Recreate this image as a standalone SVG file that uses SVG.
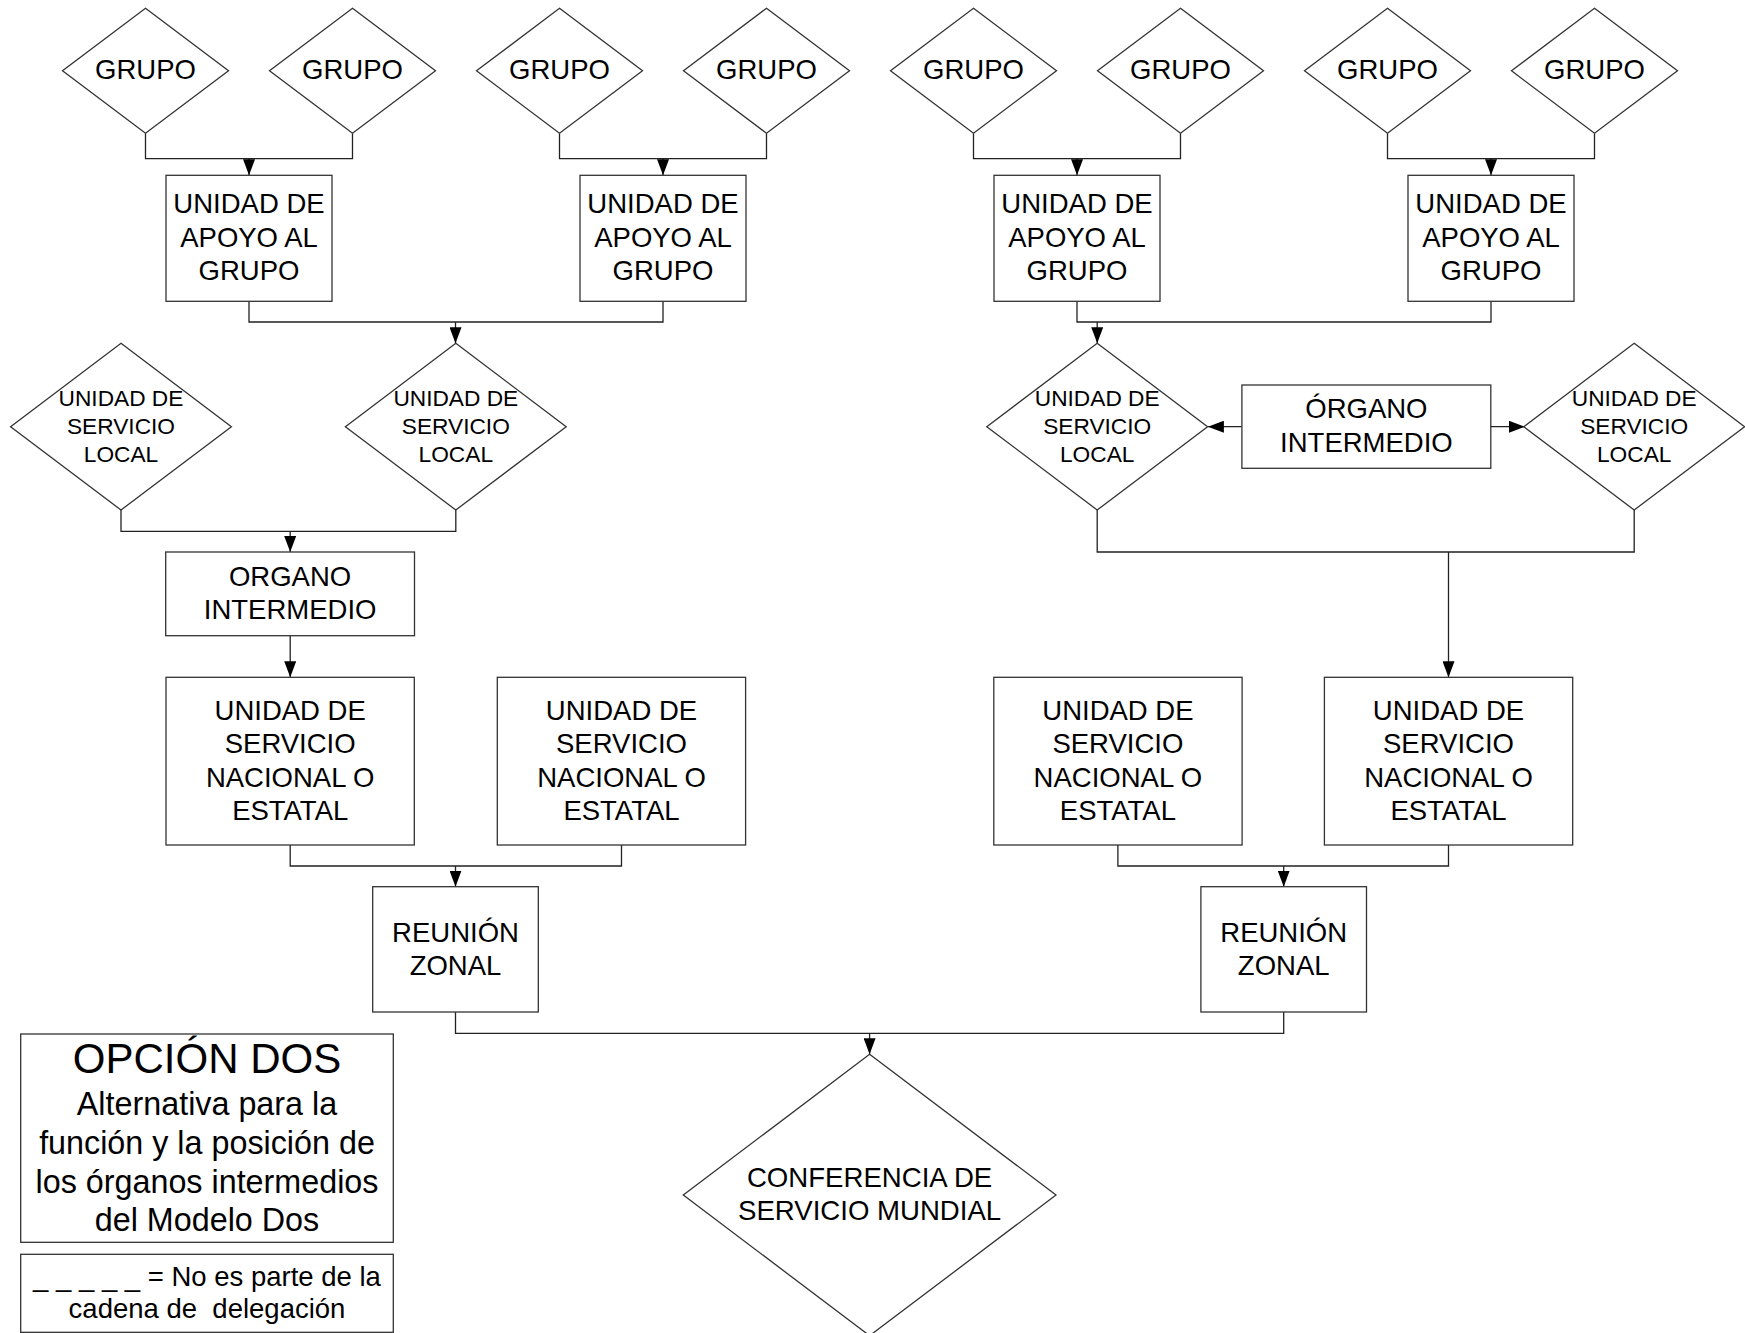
<svg xmlns="http://www.w3.org/2000/svg" width="1745" height="1333" viewBox="0 0 1745 1333">
<defs>
<marker id="arr" markerUnits="userSpaceOnUse" markerWidth="17" markerHeight="12" refX="16" refY="6" orient="auto">
<path d="M0,0 L16,6 L0,12 z" fill="#000"/>
</marker>
<style>
.n{fill:#fff;stroke:#333;stroke-width:1.3}
.c{fill:none;stroke:#222;stroke-width:1.3}
.a{fill:none;stroke:#222;stroke-width:1.3;marker-end:url(#arr)}
text{font-family:"Liberation Sans",Arial,sans-serif;fill:#000;text-anchor:middle}
.t{font-size:27.5px}
.s{font-size:22.7px}
.l{font-size:32.3px}
.g{font-size:27.5px}
</style>
</defs>
<rect width="1745" height="1333" fill="#fff"/>

<g id="connectors">
<path class="c" d="M145.5,133.3V158.7H352.5V133.3"/>
<path class="a" d="M249,158.7V175.3"/>
<path class="c" d="M559.5,133.3V158.7H766.5V133.3"/>
<path class="a" d="M663,158.7V175.3"/>
<path class="c" d="M973.5,133.3V158.7H1180.5V133.3"/>
<path class="a" d="M1077,158.7V175.3"/>
<path class="c" d="M1387.5,133.3V158.7H1594.5V133.3"/>
<path class="a" d="M1491,158.7V175.3"/>

<path class="c" d="M249,301.3V322H663V301.3"/>
<path class="a" d="M455.5,322V343.3"/>
<path class="c" d="M1077,301.3V322H1491V301.3"/>
<path class="a" d="M1097.2,322V343.3"/>

<path class="c" d="M121,510V531.3H455.8V510"/>
<path class="a" d="M290.2,531.3V552"/>
<path class="a" d="M290.2,635.7V677.3"/>

<path class="a" d="M1241.9,426.7H1207.9"/>
<path class="a" d="M1490.8,426.7H1524.8"/>
<path class="c" d="M1097.2,510V552H1634.2V510"/>
<path class="a" d="M1448.5,552V677.3"/>

<path class="c" d="M290.2,845V866H621.5V845"/>
<path class="a" d="M455.5,866V886.7"/>
<path class="c" d="M1117.9,845V866H1448.5V845"/>
<path class="a" d="M1283.7,866V886.7"/>

<path class="c" d="M455.5,1012V1033.3H1283.7V1012"/>
<path class="a" d="M869.6,1033.3V1054.3"/>
</g>

<g id="grupo1"><path class="n" d="M145.5,8.3L228.5,70.8L145.5,133.3L62.5,70.8z"/><text class="t" x="145.5" y="79">GRUPO</text></g>
<g id="grupo2"><path class="n" d="M352.5,8.3L435.5,70.8L352.5,133.3L269.5,70.8z"/><text class="t" x="352.5" y="79">GRUPO</text></g>
<g id="grupo3"><path class="n" d="M559.5,8.3L642.5,70.8L559.5,133.3L476.5,70.8z"/><text class="t" x="559.5" y="79">GRUPO</text></g>
<g id="grupo4"><path class="n" d="M766.5,8.3L849.5,70.8L766.5,133.3L683.5,70.8z"/><text class="t" x="766.5" y="79">GRUPO</text></g>
<g id="grupo5"><path class="n" d="M973.5,8.3L1056.5,70.8L973.5,133.3L890.5,70.8z"/><text class="t" x="973.5" y="79">GRUPO</text></g>
<g id="grupo6"><path class="n" d="M1180.5,8.3L1263.5,70.8L1180.5,133.3L1097.5,70.8z"/><text class="t" x="1180.5" y="79">GRUPO</text></g>
<g id="grupo7"><path class="n" d="M1387.5,8.3L1470.5,70.8L1387.5,133.3L1304.5,70.8z"/><text class="t" x="1387.5" y="79">GRUPO</text></g>
<g id="grupo8"><path class="n" d="M1594.5,8.3L1677.5,70.8L1594.5,133.3L1511.5,70.8z"/><text class="t" x="1594.5" y="79">GRUPO</text></g>

<g id="uag1"><rect class="n" x="166" y="175.3" width="166" height="126"/><text class="t" x="249" y="213">UNIDAD DE</text><text class="t" x="249" y="246.5">APOYO AL</text><text class="t" x="249" y="279.5">GRUPO</text></g>
<g id="uag2"><rect class="n" x="580" y="175.3" width="166" height="126"/><text class="t" x="663" y="213">UNIDAD DE</text><text class="t" x="663" y="246.5">APOYO AL</text><text class="t" x="663" y="279.5">GRUPO</text></g>
<g id="uag3"><rect class="n" x="994" y="175.3" width="166" height="126"/><text class="t" x="1077" y="213">UNIDAD DE</text><text class="t" x="1077" y="246.5">APOYO AL</text><text class="t" x="1077" y="279.5">GRUPO</text></g>
<g id="uag4"><rect class="n" x="1408" y="175.3" width="166" height="126"/><text class="t" x="1491" y="213">UNIDAD DE</text><text class="t" x="1491" y="246.5">APOYO AL</text><text class="t" x="1491" y="279.5">GRUPO</text></g>

<g id="usl1"><path class="n" d="M121,343.3L231.4,426.7L121,510L10.6,426.7z"/><text class="s" x="121" y="406">UNIDAD DE</text><text class="s" x="121" y="434">SERVICIO</text><text class="s" x="121" y="461.7">LOCAL</text></g>
<g id="usl2"><path class="n" d="M455.8,343.3L566.2,426.7L455.8,510L345.4,426.7z"/><text class="s" x="455.8" y="406">UNIDAD DE</text><text class="s" x="455.8" y="434">SERVICIO</text><text class="s" x="455.8" y="461.7">LOCAL</text></g>
<g id="usl3"><path class="n" d="M1097.2,343.3L1207.6,426.7L1097.2,510L986.8,426.7z"/><text class="s" x="1097.2" y="406">UNIDAD DE</text><text class="s" x="1097.2" y="434">SERVICIO</text><text class="s" x="1097.2" y="461.7">LOCAL</text></g>
<g id="usl4"><path class="n" d="M1634.2,343.3L1744.6,426.7L1634.2,510L1523.8,426.7z"/><text class="s" x="1634.2" y="406">UNIDAD DE</text><text class="s" x="1634.2" y="434">SERVICIO</text><text class="s" x="1634.2" y="461.7">LOCAL</text></g>

<g id="oi1"><rect class="n" x="165.7" y="552" width="248.8" height="83.7"/><text class="t" x="290.1" y="585.7">ORGANO</text><text class="t" x="290.1" y="618.7">INTERMEDIO</text></g>
<g id="oi2"><rect class="n" x="1241.9" y="385" width="248.9" height="83.3"/><text class="t" x="1366.4" y="418.3">ÓRGANO</text><text class="t" x="1366.4" y="451.7">INTERMEDIO</text></g>

<g id="usn1"><rect class="n" x="166" y="677.3" width="248.3" height="167.7"/><text class="t" x="290.2" y="720">UNIDAD DE</text><text class="t" x="290.2" y="753">SERVICIO</text><text class="t" x="290.2" y="786.7">NACIONAL O</text><text class="t" x="290.2" y="820">ESTATAL</text></g>
<g id="usn2"><rect class="n" x="497.3" y="677.3" width="248.3" height="167.7"/><text class="t" x="621.5" y="720">UNIDAD DE</text><text class="t" x="621.5" y="753">SERVICIO</text><text class="t" x="621.5" y="786.7">NACIONAL O</text><text class="t" x="621.5" y="820">ESTATAL</text></g>
<g id="usn3"><rect class="n" x="993.8" y="677.3" width="248.3" height="167.7"/><text class="t" x="1117.9" y="720">UNIDAD DE</text><text class="t" x="1117.9" y="753">SERVICIO</text><text class="t" x="1117.9" y="786.7">NACIONAL O</text><text class="t" x="1117.9" y="820">ESTATAL</text></g>
<g id="usn4"><rect class="n" x="1324.4" y="677.3" width="248.3" height="167.7"/><text class="t" x="1448.5" y="720">UNIDAD DE</text><text class="t" x="1448.5" y="753">SERVICIO</text><text class="t" x="1448.5" y="786.7">NACIONAL O</text><text class="t" x="1448.5" y="820">ESTATAL</text></g>

<g id="rz1"><rect class="n" x="372.7" y="886.7" width="165.6" height="125.3"/><text class="t" x="455.5" y="941.7">REUNIÓN</text><text class="t" x="455.5" y="975">ZONAL</text></g>
<g id="rz2"><rect class="n" x="1200.9" y="886.7" width="165.6" height="125.3"/><text class="t" x="1283.7" y="941.7">REUNIÓN</text><text class="t" x="1283.7" y="975">ZONAL</text></g>

<g id="csm"><path class="n" d="M869.6,1054.3L1056,1195L869.6,1335.7L683.3,1195z"/><text x="869.6" y="1186.7" font-size="27.6">CONFERENCIA DE</text><text x="869.6" y="1220" font-size="27.6">SERVICIO MUNDIAL</text></g>

<g id="legend">
<rect class="n" x="20.7" y="1034" width="372.6" height="208.3"/>
<text x="207" y="1072.5" font-size="42">OPCIÓN DOS</text>
<text class="l" x="207" y="1115.3">Alternativa para la</text>
<text class="l" x="207" y="1154">función y la posición de</text>
<text class="l" x="207" y="1192.7">los órganos intermedios</text>
<text class="l" x="207" y="1231.4">del Modelo Dos</text>
</g>
<g id="legend2">
<rect class="n" x="20.7" y="1254.3" width="372.6" height="78"/>
<text class="g" x="207" y="1285.5" xml:space="preserve">_ _ _ _ _ = No es parte de la</text>
<text class="g" x="207" y="1318" xml:space="preserve">cadena de  delegación</text>
</g>
</svg>
